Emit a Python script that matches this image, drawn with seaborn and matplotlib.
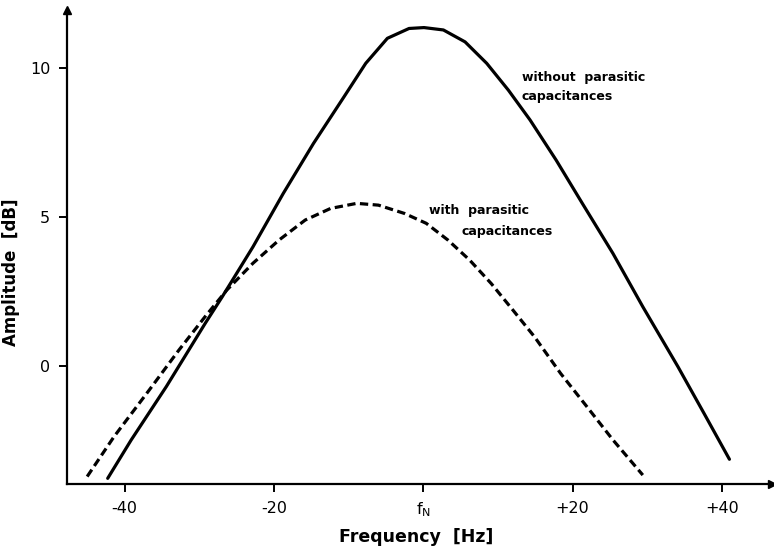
import matplotlib
matplotlib.use("Agg")
import matplotlib.pyplot as plt
import seaborn as sns
import pandas as pd

sns.set_theme(style="white")
plt.rcParams['font.family'] = ['DejaVu Sans']
plt.rcParams['text.color'] = 'black'
plt.rcParams['axes.labelcolor'] = 'black'

# Data (frequency offset from f_N in Hz, amplitude in dB)
freq_without = [-42.25, -39.1, -34.4, -29.2, -26.9, -22.8, -18.75, -14.7, -10.6, -7.7, -4.8, -1.9,
                0.1, 2.7, 5.6, 8.5, 11.4, 14.3, 17.8, 21.3, 25.4, 29.4, 34.1, 37.6, 41.0]
amp_without = [-3.77, -2.48, -0.69, 1.43, 2.33, 4.00, 5.79, 7.47, 9.04, 10.16, 11.0, 11.33,
               11.36, 11.28, 10.88, 10.16, 9.26, 8.26, 6.91, 5.46, 3.78, 1.99, -0.02, -1.59, -3.13]

freq_with = [-45.0, -41.4, -36.7, -32.7, -29.2, -26.3, -22.8, -19.3, -15.8, -12.4, -8.9, -6.0,
             -2.5, 0.4, 3.3, 6.2, 9.1, 12.0, 14.9, 18.4, 21.9, 25.4, 29.4]
amp_with = [-3.71, -2.37, -0.81, 0.54, 1.66, 2.55, 3.45, 4.23, 4.90, 5.29, 5.46, 5.40,
            5.12, 4.79, 4.23, 3.56, 2.77, 1.88, 0.98, -0.25, -1.36, -2.48, -3.66]

x_ticks = [-40, -20, 0, 20, 40]
x_tick_labels = ["-40", "-20", r"f$_\mathregular{N}$", "+20", "+40"]
y_ticks = [0, 5, 10]
y_tick_labels = ["0", "5", "10"]

df_without = pd.DataFrame({"freq": freq_without, "amp": amp_without})
df_with = pd.DataFrame({"freq": freq_with, "amp": amp_with})

fig = plt.figure(figsize=(7.74, 5.46), dpi=100)
ax = fig.add_axes([67 / 774, 1 - 484 / 546, (772 - 67) / 774, (484 - 10) / 546])

sns.lineplot(data=df_without, x="freq", y="amp", ax=ax, color="black", linewidth=2.3, sort=False)
sns.lineplot(data=df_with, x="freq", y="amp", ax=ax, color="black", linewidth=2.3, sort=False,
             linestyle=(0, (2.6, 1.4)))

ax.set_xlim(-47.7, 46.7)
ax.set_ylim(-3.96, 11.95)

for s in ["top", "right"]:
    ax.spines[s].set_visible(False)
for s in ["left", "bottom"]:
    ax.spines[s].set_color("black")
    ax.spines[s].set_linewidth(1.6)

ax.set_xticks(x_ticks)
ax.set_xticklabels(x_tick_labels)
ax.set_yticks(y_ticks)
ax.set_yticklabels(y_tick_labels)
ax.tick_params(axis="both", direction="out", length=6, width=1.4, colors="black",
               labelsize=11.5, pad=6, left=True, bottom=True)

ax.set_xlabel("Frequency  [Hz]", fontsize=12.5, fontweight="bold")
ax.set_ylabel("Amplitude  [dB]", fontsize=12, fontweight="bold")
ax.xaxis.set_label_coords(0.496, -0.093)
ax.yaxis.set_label_coords(-0.0667, 0.447)

# axis arrow heads
ax.plot([0], [1], marker="^", color="black", markersize=6, transform=ax.transAxes, clip_on=False)
ax.plot([1], [0], marker=">", color="black", markersize=6, transform=ax.transAxes, clip_on=False)

ax.text(13.2, 9.70, "without  parasitic", fontsize=9, fontweight="bold", ha="left", va="center")
ax.text(13.2, 9.03, "capacitances", fontsize=9, fontweight="bold", ha="left", va="center")
ax.text(0.8, 5.23, "with  parasitic", fontsize=9, fontweight="bold", ha="left", va="center")
ax.text(5.1, 4.50, "capacitances", fontsize=9, fontweight="bold", ha="left", va="center")

fig.savefig("out.png", dpi=100)
